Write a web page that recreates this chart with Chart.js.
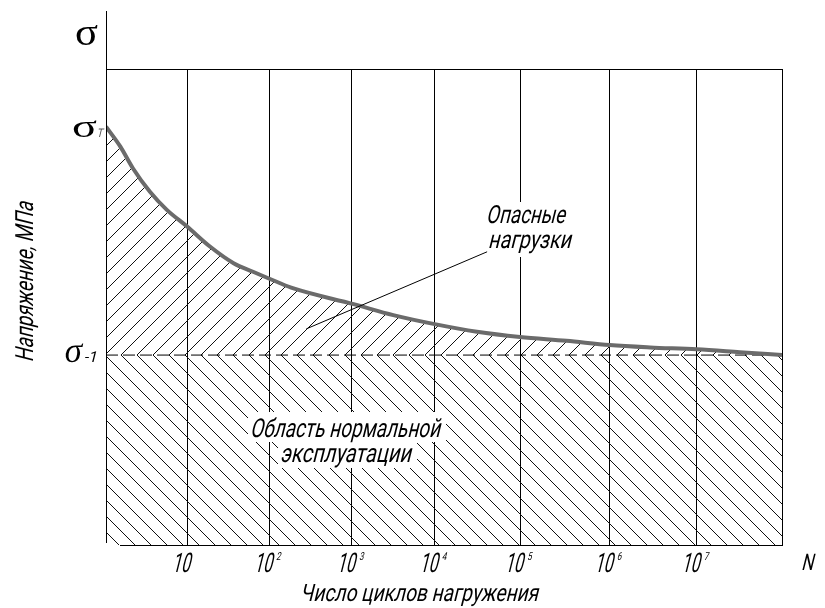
<!DOCTYPE html>
<html>
<head>
<meta charset="utf-8">
<script src="https://cdn.jsdelivr.net/npm/chart.js@4.4.1/dist/chart.umd.min.js"></script>
<style>
  html, body { margin: 0; padding: 0; background: #fff; }
  #wrap { width: 825px; height: 608px; }
</style>
</head>
<body>
<div id="wrap"><canvas id="chart" width="825" height="608"></canvas></div>
<script>
// Fatigue (Wöhler) curve: stress vs. lg of the number of loading cycles.
// x values are decades of N (lg N), y values are stress in relative units.
const lgN    = [0, 0.17, 0.32, 0.52, 0.72, 0.96, 1.23, 1.51, 1.74, 2.02, 2.22, 2.93, 3.40, 3.89, 4.39, 4.90, 5.45, 5.96, 6.44, 6.99, 7.50, 8.0];
const stress = [87.9, 83.7, 79.1, 74.2, 70.4, 66.9, 62.7, 59.2, 57.4, 55.3, 53.9, 50.6, 48.3, 46.4, 44.8, 43.7, 42.9, 42.0, 41.5, 41.1, 40.5, 39.9];

// Characteristic stresses
const sigmaT     = 87.9;   // yield stress, start of the curve
const sigmaLimit = 39.9;   // endurance limit σ-1

// Decade grid lines and their labels (10, 10², ... 10⁷, then the N end line)
const decadeLines = [0.96, 1.93, 2.91, 3.89, 4.90, 5.96, 6.99, 8.0];
const tickBase    = ['10', '10', '10', '10', '10', '10', '10'];
const tickExp     = ['', '2', '3', '4', '5', '6', '7'];

const xTitle = 'Число циклов нагружения';
const yTitle = 'Напряжение, МПа';
const dangerText = ['Опасные', 'нагрузки'];
const safeText   = ['Область нормальной', 'эксплуатации'];

// ---------- hatch patterns ----------
function makeHatch(dir, shift) {
  const s = 16;
  const tile = document.createElement('canvas');
  tile.width = s; tile.height = s;
  const t = tile.getContext('2d');
  t.strokeStyle = '#111';
  t.lineWidth = 1;
  t.beginPath();
  for (const o of [-s, 0, s]) {
    if (dir === '/') { t.moveTo(o, s); t.lineTo(o + s, 0); }
    else             { t.moveTo(o, 0); t.lineTo(o + s, s); }
  }
  t.stroke();
  const p = document.getElementById('chart').getContext('2d').createPattern(tile, 'repeat');
  p.setTransform(new DOMMatrix([1, 0, 0, 1, shift, 0]));
  return p;
}
const hatchUp   = makeHatch('/', 12);
const hatchDown = makeHatch('\\', 6);

// ---------- text helper (narrow slanted drafting lettering) ----------
const DRAFT = '"Roboto", "Liberation Sans", sans-serif';
const SERIF = '"Liberation Serif", "DejaVu Serif", serif';
function drawText(ctx, text, cx, base, size, width, o = {}) {
  const skew = o.skew === undefined ? 0.25 : o.skew;
  ctx.save();
  ctx.translate(cx, base);
  if (o.rotate) ctx.rotate(o.rotate);
  ctx.font = `${o.weight || 400} ${size}px ${o.family || DRAFT}`;
  ctx.fillStyle = o.color || '#000';
  ctx.textAlign = o.align || 'center';
  ctx.textBaseline = 'alphabetic';
  const w = ctx.measureText(text).width;
  const sx = width ? width / w : 1;
  ctx.translate(-skew * size * 0.36, 0);
  ctx.transform(sx, 0, -skew, 1, 0, 0);
  ctx.fillText(text, 0, 0);
  ctx.restore();
}

const drafting = {
  id: 'drafting',
  afterDraw(chart) {
    const ctx = chart.ctx;
    const { left, right, bottom } = chart.chartArea;
    const xs = chart.scales.x, ys = chart.scales.y;

    ctx.save();
    ctx.strokeStyle = '#000';
    ctx.lineWidth = 1;
    // stress axis (runs up past the frame) and the N axis
    ctx.beginPath();
    ctx.moveTo(left + 0.5, 11);
    ctx.lineTo(left + 0.5, bottom - 2);
    ctx.moveTo(left + 14, bottom + 0.5);
    ctx.lineTo(right + 1, bottom + 0.5);
    ctx.stroke();

    // blank backgrounds behind the region captions
    ctx.fillStyle = '#fff';
    ctx.fillRect(484, 202, 93, 55);
    ctx.fillRect(248, 412, 198, 30);
    ctx.fillRect(278, 441, 139, 27);

    // leader from the caption to the hatched zone
    ctx.beginPath();
    ctx.moveTo(xs.getPixelForValue(2.37), ys.getPixelForValue(45.4));
    ctx.lineTo(xs.getPixelForValue(4.51), ys.getPixelForValue(61.6));
    ctx.stroke();
    ctx.restore();

    // captions
    drawText(ctx, dangerText[0], 527.5, 223, 25, 79);
    drawText(ctx, dangerText[1], 531.5, 248, 25, 83);
    drawText(ctx, safeText[0], 347, 437, 26, 190);
    drawText(ctx, safeText[1], 347.5, 462, 26, 131);

    // decade tick labels
    tickBase.forEach((b, i) => {
      const px = xs.getPixelForValue(decadeLines[i]) - 4;
      drawText(ctx, b, px, 572, 27, 18);
      if (tickExp[i]) drawText(ctx, tickExp[i], px + 12, 560, 11, 4.5, { align: 'left' });
    });
    drawText(ctx, 'N', 809, 570, 23, 12);

    // axis titles
    drawText(ctx, xTitle, 421, 601, 24, 238);
    drawText(ctx, yTitle, 33, 280, 25, 160, { rotate: -Math.PI / 2 });

    // stress symbols
    drawText(ctx, 'σ', 86.5, 45, 38, 23, { family: SERIF, weight: 400, skew: 0 });
    drawText(ctx, 'σ', 84.5, ys.getPixelForValue(sigmaT) + 10, 32, 25, { family: SERIF, weight: 400, skew: 0 });
    drawText(ctx, 'T', 100.5, ys.getPixelForValue(sigmaT) + 10, 12, 6, { color: '#555' });
    drawText(ctx, 'σ', 74, ys.getPixelForValue(sigmaLimit) + 7, 36, 18, { family: SERIF, weight: 400, skew: 0.12 });
    drawText(ctx, '-1', 91.5, ys.getPixelForValue(sigmaLimit) + 7, 15, 13);
  }
};

new Chart(document.getElementById('chart'), {
  type: 'line',
  data: {
    datasets: [
      {
        label: 'σ(N)',
        data: lgN.map((x, i) => ({ x, y: stress[i] })),
        borderColor: '#6b6b6b',
        borderWidth: 4,
        pointRadius: 0,
        cubicInterpolationMode: 'monotone',
        fill: { target: 1 },
        backgroundColor: hatchUp
      },
      {
        label: 'σ-1',
        data: [{ x: 0, y: sigmaLimit }, { x: 8, y: sigmaLimit }],
        borderColor: '#000',
        borderWidth: 1,
        borderDash: [12, 5],
        pointRadius: 0,
        fill: 'origin',
        backgroundColor: hatchDown
      }
    ]
  },
  options: {
    responsive: false,
    animation: false,
    layout: { padding: { left: 106, right: 43, top: 69, bottom: 63 } },
    plugins: { legend: { display: false }, tooltip: { enabled: false } },
    scales: {
      x: {
        type: 'linear', min: 0, max: 8,
        afterBuildTicks: s => { s.ticks = decadeLines.map(v => ({ value: v })); },
        ticks: { display: false },
        grid: { color: '#000', lineWidth: 1, drawTicks: false },
        border: { display: false }
      },
      y: {
        type: 'linear', min: 0, max: 100,
        afterBuildTicks: s => { s.ticks = [{ value: 100 }]; },
        ticks: { display: false },
        grid: { color: '#000', lineWidth: 1, drawTicks: false },
        border: { display: false }
      }
    }
  },
  plugins: [drafting]
});
</script>
</body>
</html>
